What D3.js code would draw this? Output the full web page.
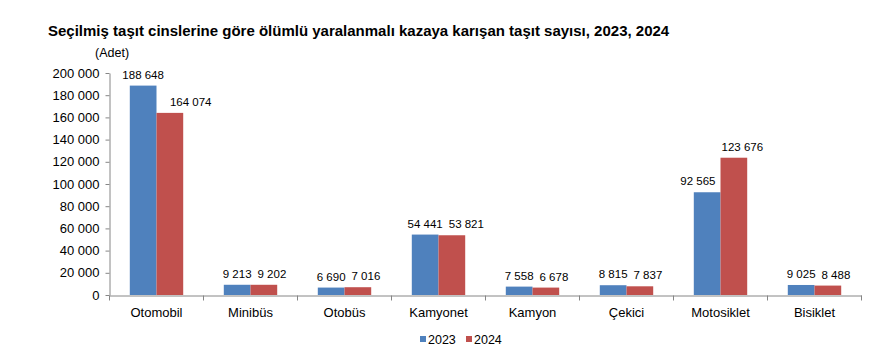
<!DOCTYPE html>
<html><head><meta charset="utf-8">
<script src="https://cdn.jsdelivr.net/npm/d3@7"></script>
<style>body{margin:0;background:#fff}svg{display:block}text{font-family:"Liberation Sans",Arial,sans-serif;fill:#000}</style>
</head><body><svg id="c" width="888" height="357"></svg>
<script>
const categories = ["Otomobil","Minibüs","Otobüs","Kamyonet","Kamyon","Çekici","Motosiklet","Bisiklet"];
const series = ["2023","2024"];
const values2023 = [188648, 9213, 6690, 54441, 7558, 8815, 92565, 9025];
const values2024 = [164074, 9202, 7016, 53821, 6678, 7837, 123676, 8488];
const yTicks = [0,20000,40000,60000,80000,100000,120000,140000,160000,180000,200000];
const colors = ["#4F81BD","#C0504D"];

const svg = d3.select("#c");
const fmt = v => d3.format(",")(v).replace(/,/g," ");
const x = d3.scaleBand().domain(categories).range([109.5,861.5]).paddingInner(0).paddingOuter(0);
const y = d3.scaleLinear().domain([0,200000]).range([295,73]);
const xs = d3.scaleBand().domain(series).range([0,x.bandwidth()]).paddingInner(0).paddingOuter(0.76);
const data = [values2023, values2024];

svg.append("text").attr("x",48).attr("y",36).attr("font-size",15).attr("font-weight","bold")
  .text("Seçilmiş taşıt cinslerine göre ölümlü yaralanmalı kazaya karışan taşıt sayısı, 2023, 2024");
svg.append("text").attr("x",95).attr("y",57).attr("font-size",12.5).text("(Adet)");

// y axis
const ya = svg.append("g").attr("transform","translate(109.5,0)")
  .call(d3.axisLeft(y).tickValues(yTicks).tickSize(4).tickSizeOuter(0).tickFormat(fmt));
ya.select(".domain").attr("stroke","#868686");
ya.selectAll(".tick line").attr("stroke","#868686");
ya.selectAll(".tick text").attr("font-size",13).attr("font-family","Liberation Sans, Arial").attr("fill","#000").attr("x",-10);

// bars
categories.forEach((c,i)=>{
  series.forEach((s,j)=>{
    const v = data[j][i];
    svg.append("rect").attr("x",x(c)+xs(s)).attr("y",y(v)).attr("width",xs.bandwidth()).attr("height",y(0)-y(v)).attr("fill",colors[j]);
  });
});

// labels, nudged away from taller neighbouring bars and from each other
categories.forEach((c,i)=>{
  let prevRight = -Infinity;
  series.forEach((s,j)=>{
    const v = data[j][i];
    const bx = x(c)+xs(s), bw = xs.bandwidth();
    const ly = y(v)-7;
    const t = svg.append("text").attr("y",ly).attr("text-anchor","middle").attr("font-size",11.5).text(fmt(v));
    const w = t.node().getComputedTextLength();
    let cx = bx + bw/2;
    series.forEach((s2,k)=>{
      if (k===j) return;
      const top = y(data[k][i]);
      if (top < ly + 2) {
        const ox = x(c)+xs(s2);
        if (k > j) cx = Math.min(cx, ox - 5 - w/2);
        else cx = Math.max(cx, ox + bw + 5 + w/2);
      }
    });
    if (cx - w/2 < prevRight + 6) cx = prevRight + 6 + w/2;
    t.attr("x",cx);
    prevRight = cx + w/2;
  });
});

// x axis
const xa = svg.append("g").attr("transform","translate(0,295.5)")
  .call(d3.axisBottom(x).tickSize(0).tickSizeOuter(0));
xa.select(".domain").attr("stroke","#868686");
xa.selectAll(".tick text").attr("font-size",13).attr("font-family","Liberation Sans, Arial").attr("fill","#000").attr("dy",0).attr("y",21);
const bounds = categories.map(c=>x(c)).concat([x.range()[1]]);
xa.selectAll(".bnd").data(bounds).enter().append("line").attr("x1",d=>d).attr("x2",d=>d).attr("y1",0).attr("y2",5).attr("stroke","#868686");

// legend
const lg = svg.append("g");
const lx = [420, 466];
series.forEach((s,j)=>{
  lg.append("rect").attr("x",lx[j]).attr("y",336).attr("width",6).attr("height",6).attr("fill",colors[j]);
  lg.append("text").attr("x",lx[j]+8).attr("y",344).attr("font-size",12.5).text(s);
});
</script></body></html>
